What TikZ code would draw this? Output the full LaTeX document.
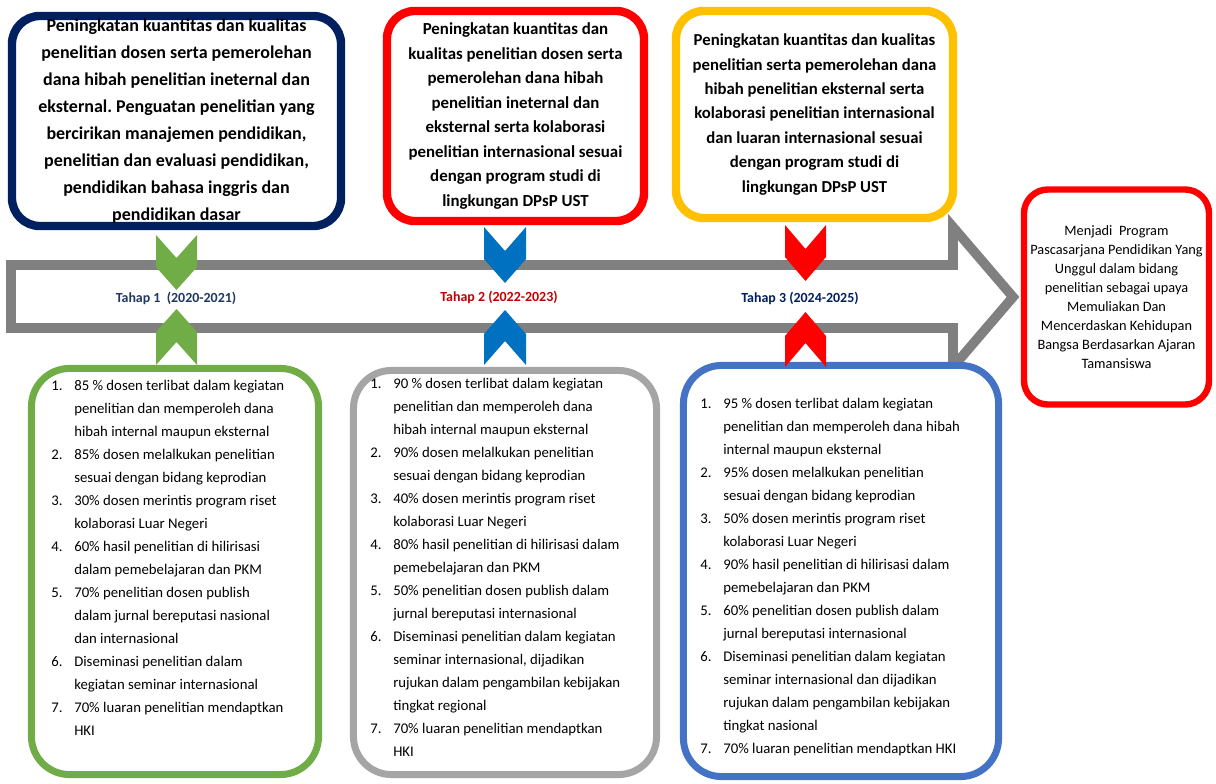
\documentclass[tikz,border=0pt]{standalone}
\usepackage{fontspec}
\setmainfont{Carlito}
\usepackage{xcolor}
\usepackage{tikz}
\usetikzlibrary{positioning}
\frenchspacing

\definecolor{navyline}{HTML}{002060}
\definecolor{redline}{HTML}{FF0000}
\definecolor{goldline}{HTML}{FFC000}
\definecolor{greenline}{HTML}{70AD47}
\definecolor{greyline}{HTML}{A5A5A5}
\definecolor{blueline}{HTML}{4472C4}
\definecolor{bluechev}{HTML}{0070C0}
\definecolor{arrowgrey}{HTML}{808080}
\definecolor{tahapone}{HTML}{1F3864}
\definecolor{tahaptwo}{HTML}{C00000}
\definecolor{tahapthree}{HTML}{002060}

\begin{document}
\begin{tikzpicture}[x=0.025cm,y=-0.025cm,
	goalbox/.style={draw=#1,fill=white,line width=0.21cm,rounded corners=0.7cm,align=center,inner sep=0pt},
	listbox/.style={draw=#1,fill=white,line width=0.175cm,rounded corners=0.95cm,inner sep=0pt},
	listtext/.style={anchor=base west,inner sep=0pt,font=\fontsize{10.5}{16.4}\selectfont},
	tahap/.style={inner sep=0pt,font=\fontsize{9.9}{12}\selectfont\bfseries}]
	\fill[white] (0,0) rectangle (1216,783);
	%
	\draw[arrowgrey,line width=0.24cm] (11,265) -- (953,265) -- (953,227) -- (1013,297) -- (953,367) -- (953,328) -- (11,328) -- cycle;
	%
	\node[goalbox=navyline,minimum width=8.225cm,minimum height=5.25cm,font=\fontsize{12.8}{19.2}\selectfont\bfseries] (G1) at (176.5,121)
		{Peningkatan kuantitas dan kualitas\\penelitian dosen serta pemerolehan\\dana hibah penelitian ineternal dan\\eksternal. Penguatan penelitian yang\\bercirikan manajemen pendidikan,\\penelitian dan evaluasi pendidikan,\\pendidikan bahasa inggris dan\\pendidikan dasar};
	\node[goalbox=redline,minimum width=6.425cm,minimum height=5.25cm,font=\fontsize{12}{17.4}\selectfont\bfseries] (G2) at (515.5,116)
		{Peningkatan kuantitas dan\\kualitas penelitian dosen serta\\pemerolehan dana hibah\\penelitian ineternal dan\\eksternal serta kolaborasi\\penelitian internasional sesuai\\dengan program studi di\\lingkungan DPsP UST};
	\node[goalbox=goldline,minimum width=6.925cm,minimum height=5.175cm,font=\fontsize{11.9}{17.4}\selectfont\bfseries] (G3) at (814.5,114.5)
		{Peningkatan kuantitas dan kualitas\\penelitian serta pemerolehan dana\\hibah penelitian eksternal serta\\kolaborasi penelitian internasional\\dan luaran internasional sesuai\\dengan program studi di\\lingkungan DPsP UST};
	\node[goalbox=redline,line width=0.16cm,rounded corners=0.6cm,minimum width=4.625cm,minimum height=5.375cm,font=\fontsize{10.2}{13.5}\selectfont] (V) at (1116.5,297)
		{Menjadi~ Program\\Pascasarjana Pendidikan Yang\\Unggul dalam bidang\\penelitian sebagai upaya\\Memuliakan Dan\\Mencerdaskan Kehidupan\\Bangsa Berdasarkan Ajaran\\Tamansiswa};
	%
	\node[listbox=greenline,minimum width=7.175cm,minimum height=10.15cm] (B1) at (175,571.5) {};
	\node[listbox=greyline,minimum width=7.575cm,minimum height=10.1cm] (B2) at (505,572.5) {};
	\node[listbox=blueline,minimum width=7.875cm,minimum height=10.275cm] (B3) at (841,571) {};
	%
	\node[listtext] (L1) at (51,390) {\begin{tabular}[t]{@{}p{0.575cm}@{}l@{}}
		1. & 85 \% dosen terlibat dalam kegiatan\\
		   & penelitian dan memperoleh dana\\
		   & hibah internal maupun eksternal\\
		2. & 85\% dosen melalkukan penelitian\\
		   & sesuai dengan bidang keprodian\\
		3. & 30\% dosen merintis program riset\\
		   & kolaborasi Luar Negeri\\
		4. & 60\% hasil penelitian di hilirisasi\\
		   & dalam pemebelajaran dan PKM\\
		5. & 70\% penelitian dosen publish\\
		   & dalam jurnal bereputasi nasional\\
		   & dan internasional\\
		6. & Diseminasi penelitian dalam\\
		   & kegiatan seminar internasional\\
		7. & 70\% luaran penelitian mendaptkan\\
		   & HKI
	\end{tabular}};
	\node[listtext] (L2) at (370,388) {\begin{tabular}[t]{@{}p{0.575cm}@{}l@{}}
		1. & 90 \% dosen terlibat dalam kegiatan\\
		   & penelitian dan memperoleh dana\\
		   & hibah internal maupun eksternal\\
		2. & 90\% dosen melalkukan penelitian\\
		   & sesuai dengan bidang keprodian\\
		3. & 40\% dosen merintis program riset\\
		   & kolaborasi Luar Negeri\\
		4. & 80\% hasil penelitian di hilirisasi dalam\\
		   & pemebelajaran dan PKM\\
		5. & 50\% penelitian dosen publish dalam\\
		   & jurnal bereputasi internasional\\
		6. & Diseminasi penelitian dalam kegiatan\\
		   & seminar internasional, dijadikan\\
		   & rujukan dalam pengambilan kebijakan\\
		   & tingkat regional\\
		7. & 70\% luaran penelitian mendaptkan\\
		   & HKI
	\end{tabular}};
	\node[listtext] (L3) at (700,408) {\begin{tabular}[t]{@{}p{0.575cm}@{}l@{}}
		1. & 95 \% dosen terlibat dalam kegiatan\\
		   & penelitian dan memperoleh dana hibah\\
		   & internal maupun eksternal\\
		2. & 95\% dosen melalkukan penelitian\\
		   & sesuai dengan bidang keprodian\\
		3. & 50\% dosen merintis program riset\\
		   & kolaborasi Luar Negeri\\
		4. & 90\% hasil penelitian di hilirisasi dalam\\
		   & pemebelajaran dan PKM\\
		5. & 60\% penelitian dosen publish dalam\\
		   & jurnal bereputasi internasional\\
		6. & Diseminasi penelitian dalam kegiatan\\
		   & seminar internasional dan dijadikan\\
		   & rujukan dalam pengambilan kebijakan\\
		   & tingkat nasional\\
		7. & 70\% luaran penelitian mendaptkan HKI
	\end{tabular}};
	%
	\node[tahap,text=tahapone] (T1) at (176,298) {Tahap 1~ (2020-2021)};
	\node[tahap,text=tahaptwo] (T2) at (499,297) {Tahap 2 (2022-2023)};
	\node[tahap,text=tahapthree] (T3) at (800,298) {Tahap 3 (2024-2025)};
	%
	\fill[greenline] (156,235) -- (176.5,258) -- (197,235) -- (197,267) -- (176.5,290) -- (156,267) -- cycle;
	\fill[greenline] (176.5,309) -- (197,332) -- (197,365) -- (176.5,342) -- (156,365) -- (156,332) -- cycle;
	\fill[bluechev] (484,227) -- (505,251) -- (526,227) -- (526,259) -- (505,283) -- (484,259) -- cycle;
	\fill[bluechev] (505,310) -- (526,334) -- (526,365) -- (505,341) -- (484,365) -- (484,334) -- cycle;
	\fill[redline] (785,225) -- (805.5,249) -- (826,225) -- (826,257) -- (805.5,281) -- (785,257) -- cycle;
	\fill[redline] (805.5,312) -- (826,336) -- (826,367) -- (805.5,343) -- (785,367) -- (785,336) -- cycle;
\end{tikzpicture}
\end{document}
